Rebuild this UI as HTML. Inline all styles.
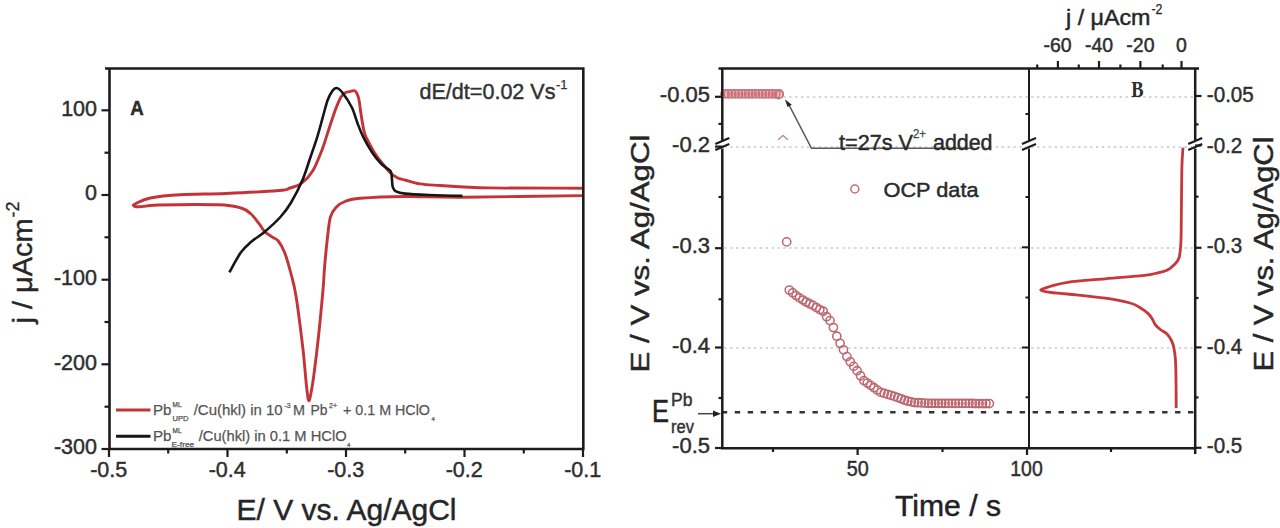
<!DOCTYPE html><html><head><meta charset="utf-8"><style>html,body{margin:0;padding:0;background:#fff;}svg{display:block;}text{font-family:"Liberation Sans",sans-serif;}</style></head><body>
<svg width="1280" height="528" viewBox="0 0 1280 528">
<rect width="1280" height="528" fill="#fff"/>
<path d="M583.0,188.2 C567.3,188.1 512.8,188.3 489.0,187.9 C465.2,187.5 451.5,186.2 440.0,185.5 C428.5,184.8 425.8,184.8 420.0,183.9 C414.2,183.0 408.8,181.0 405.0,180.0 C401.2,179.0 399.7,178.9 397.3,177.7 C394.9,176.5 392.8,175.1 390.5,173.0 C388.2,170.9 386.3,168.4 383.6,165.0 C380.9,161.6 376.9,156.4 374.5,152.7 C372.1,149.0 370.7,146.4 369.0,143.0 C367.3,139.6 365.6,137.1 364.3,132.3 C363.0,127.5 361.9,119.7 361.0,114.0 C360.1,108.3 359.6,101.8 358.6,98.0 C357.6,94.2 356.5,92.1 355.2,91.0 C353.9,89.9 352.3,91.2 350.7,91.4 C349.1,91.7 347.3,91.6 345.7,92.5 C344.1,93.4 342.7,94.2 341.0,97.0 C339.3,99.8 337.6,104.0 335.5,109.5 C333.4,115.0 330.9,123.2 328.6,130.0 C326.3,136.8 324.5,143.7 321.8,150.5 C319.1,157.3 316.1,165.5 312.7,171.0 C309.3,176.5 305.2,180.6 301.4,183.4 C297.6,186.2 293.7,186.8 290.0,188.0 C286.3,189.2 289.7,189.6 279.0,190.5 C268.3,191.4 242.4,192.8 226.0,193.5 C209.6,194.2 193.2,193.9 180.6,194.7 C168.0,195.4 157.7,196.5 150.3,198.0 C142.9,199.5 138.8,202.2 136.0,203.5 C133.2,204.8 133.0,205.0 133.6,205.6 C134.2,206.2 135.6,206.9 139.7,206.8 C143.8,206.7 144.9,205.3 158.0,205.0 C171.1,204.7 204.7,204.3 218.5,204.8 C232.3,205.3 235.6,206.5 241.0,208.0 C246.4,209.5 247.9,211.3 251.0,214.0 C254.1,216.7 257.3,221.5 259.6,224.4 C261.9,227.3 262.7,229.6 264.8,231.7 C266.9,233.8 269.8,235.3 272.0,236.9 C274.2,238.5 276.2,238.4 278.3,241.0 C280.4,243.6 282.5,247.2 284.6,252.5 C286.7,257.8 288.9,265.8 290.8,273.0 C292.7,280.2 294.0,283.7 296.0,296.0 C298.0,308.3 301.0,332.6 302.7,346.8 C304.4,361.0 305.1,372.1 306.0,381.0 C306.9,389.9 307.6,397.8 308.4,400.0 C309.2,402.2 309.8,398.8 310.7,394.5 C311.6,390.2 312.7,383.8 314.0,374.0 C315.3,364.2 317.1,349.5 318.6,335.5 C320.1,321.5 322.0,301.2 323.0,290.0 C324.0,278.8 323.8,276.0 324.5,268.0 C325.2,260.0 326.0,250.5 327.0,242.0 C328.0,233.5 328.8,222.9 330.4,217.0 C332.0,211.1 334.3,209.3 336.7,206.7 C339.1,204.1 341.1,202.9 345.0,201.5 C348.9,200.1 350.0,199.1 360.0,198.3 C370.0,197.5 387.9,196.7 405.0,196.5 C422.1,196.3 432.8,197.3 462.5,197.2 C492.2,197.0 562.9,195.9 583.0,195.6" fill="none" stroke="#c23437" stroke-width="2.9" stroke-linejoin="round"/>
<path d="M229.4,272.3 C231.3,269.0 237.2,257.6 240.8,252.5 C244.4,247.4 247.0,245.5 251.0,242.0 C255.0,238.5 259.9,235.9 264.8,231.7 C269.7,227.5 276.1,221.8 280.4,217.0 C284.7,212.2 287.1,209.2 290.8,203.0 C294.5,196.8 299.2,187.7 302.5,180.0 C305.8,172.3 308.0,164.2 310.5,157.0 C313.0,149.8 315.2,143.6 317.3,136.8 C319.4,130.0 321.3,122.5 323.0,116.4 C324.7,110.4 326.0,104.7 327.5,100.5 C329.0,96.3 330.5,93.5 332.0,91.4 C333.5,89.3 334.9,87.8 336.6,88.0 C338.3,88.2 339.8,89.3 342.3,92.5 C344.8,95.7 349.3,102.2 351.8,107.3 C354.3,112.4 355.6,118.3 357.5,123.2 C359.4,128.1 360.7,131.9 363.2,136.8 C365.7,141.7 369.3,148.2 372.3,152.7 C375.3,157.2 378.4,160.9 381.4,164.0 C384.4,167.1 388.8,168.7 390.5,171.0 C392.2,173.3 391.4,175.1 391.8,177.7 C392.2,180.3 392.0,184.5 392.7,186.8 C393.4,189.1 393.9,190.3 396.0,191.4 C398.1,192.5 399.5,193.0 405.0,193.6 C410.5,194.2 419.4,194.6 429.0,195.0 C438.6,195.4 456.9,195.8 462.5,195.9" fill="none" stroke="#161616" stroke-width="2.6" stroke-linejoin="round"/>
<path d="M105,68.5 H583.3 V449.0 H109.5 V68.5" fill="none" stroke="#1c1c1c" stroke-width="2.6"/>
<line x1="101.5" y1="110.3" x2="109.5" y2="110.3" stroke="#1c1c1c" stroke-width="2.2"/>
<text x="97" y="115.5" font-size="21.5" text-anchor="end" fill="#2e2e2e" stroke="#2e2e2e" stroke-width="0.45" >100</text>
<line x1="101.5" y1="195.0" x2="109.5" y2="195.0" stroke="#1c1c1c" stroke-width="2.2"/>
<text x="97" y="200.2" font-size="21.5" text-anchor="end" fill="#2e2e2e" stroke="#2e2e2e" stroke-width="0.45" >0</text>
<line x1="101.5" y1="279.7" x2="109.5" y2="279.7" stroke="#1c1c1c" stroke-width="2.2"/>
<text x="97" y="284.9" font-size="21.5" text-anchor="end" fill="#2e2e2e" stroke="#2e2e2e" stroke-width="0.45" >-100</text>
<line x1="101.5" y1="364.3" x2="109.5" y2="364.3" stroke="#1c1c1c" stroke-width="2.2"/>
<text x="97" y="369.5" font-size="21.5" text-anchor="end" fill="#2e2e2e" stroke="#2e2e2e" stroke-width="0.45" >-200</text>
<line x1="101.5" y1="449.0" x2="109.5" y2="449.0" stroke="#1c1c1c" stroke-width="2.2"/>
<text x="97" y="454.2" font-size="21.5" text-anchor="end" fill="#2e2e2e" stroke="#2e2e2e" stroke-width="0.45" >-300</text>
<line x1="104.5" y1="152.7" x2="109.5" y2="152.7" stroke="#1c1c1c" stroke-width="2.2"/>
<line x1="104.5" y1="237.3" x2="109.5" y2="237.3" stroke="#1c1c1c" stroke-width="2.2"/>
<line x1="104.5" y1="322.0" x2="109.5" y2="322.0" stroke="#1c1c1c" stroke-width="2.2"/>
<line x1="104.5" y1="406.7" x2="109.5" y2="406.7" stroke="#1c1c1c" stroke-width="2.2"/>
<line x1="109.0" y1="449.0" x2="109.0" y2="457" stroke="#1c1c1c" stroke-width="2.2"/>
<text x="108.7" y="476.8" font-size="21.5" text-anchor="middle" fill="#2e2e2e" stroke="#2e2e2e" stroke-width="0.45" >-0.5</text>
<line x1="227.5" y1="449.0" x2="227.5" y2="457" stroke="#1c1c1c" stroke-width="2.2"/>
<text x="227.2" y="476.8" font-size="21.5" text-anchor="middle" fill="#2e2e2e" stroke="#2e2e2e" stroke-width="0.45" >-0.4</text>
<line x1="346.0" y1="449.0" x2="346.0" y2="457" stroke="#1c1c1c" stroke-width="2.2"/>
<text x="345.7" y="476.8" font-size="21.5" text-anchor="middle" fill="#2e2e2e" stroke="#2e2e2e" stroke-width="0.45" >-0.3</text>
<line x1="464.5" y1="449.0" x2="464.5" y2="457" stroke="#1c1c1c" stroke-width="2.2"/>
<text x="464.2" y="476.8" font-size="21.5" text-anchor="middle" fill="#2e2e2e" stroke="#2e2e2e" stroke-width="0.45" >-0.2</text>
<line x1="583.0" y1="449.0" x2="583.0" y2="457" stroke="#1c1c1c" stroke-width="2.2"/>
<text x="582.7" y="476.8" font-size="21.5" text-anchor="middle" fill="#2e2e2e" stroke="#2e2e2e" stroke-width="0.45" >-0.1</text>
<line x1="168.2" y1="449.0" x2="168.2" y2="453.5" stroke="#1c1c1c" stroke-width="2.2"/>
<line x1="286.8" y1="449.0" x2="286.8" y2="453.5" stroke="#1c1c1c" stroke-width="2.2"/>
<line x1="405.2" y1="449.0" x2="405.2" y2="453.5" stroke="#1c1c1c" stroke-width="2.2"/>
<line x1="523.8" y1="449.0" x2="523.8" y2="453.5" stroke="#1c1c1c" stroke-width="2.2"/>
<text x="236.5" y="519.5" font-size="29" text-anchor="start" fill="#262626" stroke="#262626" stroke-width="0.45" textLength="220" lengthAdjust="spacingAndGlyphs" >E/ V vs. Ag/AgCl</text>
<g transform="translate(31.5,323.5) rotate(-90)"><text x="0" y="0" font-size="28.5" fill="#262626" stroke="#262626" stroke-width="0.45" textLength="105" lengthAdjust="spacingAndGlyphs">j / μAcm</text><text x="106" y="-13" font-size="18" fill="#262626" stroke="#262626" stroke-width="0.3">-2</text></g>
<text x="130.2" y="114.9" font-size="20" text-anchor="start" fill="#2a2a2a" stroke="#2a2a2a" stroke-width="0.45" textLength="13.5" lengthAdjust="spacingAndGlyphs" font-weight="bold">A</text>
<text x="419.5" y="98.5" font-size="22" text-anchor="start" fill="#333" stroke="#333" stroke-width="0.45" textLength="136" lengthAdjust="spacingAndGlyphs" >dE/dt=0.02 Vs</text>
<text x="556" y="89" font-size="13" text-anchor="start" fill="#333" stroke="#333" stroke-width="0.25" >-1</text>
<line x1="116" y1="410" x2="150.5" y2="410" stroke="#c23437" stroke-width="3.2"/>
<line x1="116" y1="436.3" x2="150.5" y2="436.3" stroke="#161616" stroke-width="3"/>
<text x="153" y="415.2" font-size="15.5" text-anchor="start" fill="#555" stroke="#555" stroke-width="0.25" textLength="18.5" lengthAdjust="spacingAndGlyphs" >Pb</text>
<text x="172.6" y="406.8" font-size="6.5" text-anchor="start" fill="#555" stroke="#555" stroke-width="0.25" textLength="9" lengthAdjust="spacingAndGlyphs" >ML</text>
<text x="172.6" y="421" font-size="7" text-anchor="start" fill="#555" stroke="#555" stroke-width="0.25" textLength="16" lengthAdjust="spacingAndGlyphs" >UPD</text>
<text x="193.7" y="415" font-size="15" text-anchor="start" fill="#555" stroke="#555" stroke-width="0.25" textLength="89" lengthAdjust="spacingAndGlyphs" >/Cu(hkl) in 10</text>
<text x="284.5" y="408" font-size="7" text-anchor="start" fill="#555" stroke="#555" stroke-width="0.25" >-3</text>
<text x="293" y="415" font-size="15" text-anchor="start" fill="#555" stroke="#555" stroke-width="0.25" textLength="12" lengthAdjust="spacingAndGlyphs" >M</text>
<text x="310.6" y="415" font-size="15" text-anchor="start" fill="#555" stroke="#555" stroke-width="0.25" textLength="17" lengthAdjust="spacingAndGlyphs" >Pb</text>
<text x="329" y="408" font-size="7" text-anchor="start" fill="#555" stroke="#555" stroke-width="0.25" >2+</text>
<text x="343" y="415" font-size="15" text-anchor="start" fill="#555" stroke="#555" stroke-width="0.25" textLength="87" lengthAdjust="spacingAndGlyphs" >+ 0.1 M HClO</text>
<text x="431.5" y="421" font-size="6" text-anchor="start" fill="#555" stroke="#555" stroke-width="0.25" >4</text>
<text x="153" y="441.3" font-size="15.5" text-anchor="start" fill="#555" stroke="#555" stroke-width="0.25" textLength="18.5" lengthAdjust="spacingAndGlyphs" >Pb</text>
<text x="172.6" y="433" font-size="6.5" text-anchor="start" fill="#555" stroke="#555" stroke-width="0.25" textLength="9" lengthAdjust="spacingAndGlyphs" >ML</text>
<text x="171.6" y="446.8" font-size="7" text-anchor="start" fill="#555" stroke="#555" stroke-width="0.25" textLength="22.5" lengthAdjust="spacingAndGlyphs" >E-free</text>
<text x="198.7" y="441.3" font-size="15" text-anchor="start" fill="#555" stroke="#555" stroke-width="0.25" textLength="148" lengthAdjust="spacingAndGlyphs" >/Cu(hkl) in 0.1 M HClO</text>
<text x="347" y="447" font-size="6" text-anchor="start" fill="#555" stroke="#555" stroke-width="0.25" >4</text>
<line x1="724.3" y1="97.0" x2="1194.2" y2="97.0" stroke="#d6d6d6" stroke-width="1.8" stroke-dasharray="2.4 3.5"/>
<line x1="724.3" y1="147.0" x2="1194.2" y2="147.0" stroke="#d6d6d6" stroke-width="1.8" stroke-dasharray="2.4 3.5"/>
<line x1="724.3" y1="248.0" x2="1194.2" y2="248.0" stroke="#d6d6d6" stroke-width="1.8" stroke-dasharray="2.4 3.5"/>
<line x1="724.3" y1="348.0" x2="1194.2" y2="348.0" stroke="#d6d6d6" stroke-width="1.8" stroke-dasharray="2.4 3.5"/>
<line x1="722.3" y1="412.3" x2="1195.2" y2="412.3" stroke="#333" stroke-width="2.4" stroke-dasharray="5.4 7.55" stroke-dashoffset="0.5"/>
<rect x="722.3" y="90" width="58" height="8" rx="4" fill="#ecbcc0"/>
<circle cx="725.0" cy="93.9" r="4.1" fill="none" stroke="#c8747c" stroke-width="1.6"/>
<circle cx="728.39" cy="93.9" r="4.1" fill="none" stroke="#c8747c" stroke-width="1.6"/>
<circle cx="731.78" cy="93.9" r="4.1" fill="none" stroke="#c8747c" stroke-width="1.6"/>
<circle cx="735.17" cy="93.9" r="4.1" fill="none" stroke="#c8747c" stroke-width="1.6"/>
<circle cx="738.56" cy="93.9" r="4.1" fill="none" stroke="#c8747c" stroke-width="1.6"/>
<circle cx="741.95" cy="93.9" r="4.1" fill="none" stroke="#c8747c" stroke-width="1.6"/>
<circle cx="745.34" cy="93.9" r="4.1" fill="none" stroke="#c8747c" stroke-width="1.6"/>
<circle cx="748.73" cy="93.9" r="4.1" fill="none" stroke="#c8747c" stroke-width="1.6"/>
<circle cx="752.12" cy="93.9" r="4.1" fill="none" stroke="#c8747c" stroke-width="1.6"/>
<circle cx="755.51" cy="93.9" r="4.1" fill="none" stroke="#c8747c" stroke-width="1.6"/>
<circle cx="758.9" cy="93.9" r="4.1" fill="none" stroke="#c8747c" stroke-width="1.6"/>
<circle cx="762.29" cy="93.9" r="4.1" fill="none" stroke="#c8747c" stroke-width="1.6"/>
<circle cx="765.68" cy="93.9" r="4.1" fill="none" stroke="#c8747c" stroke-width="1.6"/>
<circle cx="769.07" cy="93.9" r="4.1" fill="none" stroke="#c8747c" stroke-width="1.6"/>
<circle cx="772.46" cy="93.9" r="4.1" fill="none" stroke="#c8747c" stroke-width="1.6"/>
<circle cx="775.85" cy="93.9" r="4.1" fill="none" stroke="#c8747c" stroke-width="1.6"/>
<circle cx="779.24" cy="93.9" r="4.1" fill="none" stroke="#c8747c" stroke-width="1.6"/>
<circle cx="778.5" cy="94.6" r="4.1" fill="none" stroke="#c8747c" stroke-width="1.6"/>
<circle cx="786.7" cy="241.9" r="4.1" fill="none" stroke="#bc6870" stroke-width="1.55"/>
<circle cx="789.3" cy="290.0" r="4.1" fill="none" stroke="#bc6870" stroke-width="1.55"/>
<circle cx="792.7" cy="292.8" r="4.1" fill="none" stroke="#bc6870" stroke-width="1.55"/>
<circle cx="796.1" cy="295.6" r="4.1" fill="none" stroke="#bc6870" stroke-width="1.55"/>
<circle cx="799.5" cy="297.9" r="4.1" fill="none" stroke="#bc6870" stroke-width="1.55"/>
<circle cx="802.9" cy="300.0" r="4.1" fill="none" stroke="#bc6870" stroke-width="1.55"/>
<circle cx="806.2" cy="302.0" r="4.1" fill="none" stroke="#bc6870" stroke-width="1.55"/>
<circle cx="809.6" cy="303.7" r="4.1" fill="none" stroke="#bc6870" stroke-width="1.55"/>
<circle cx="813.0" cy="305.4" r="4.1" fill="none" stroke="#bc6870" stroke-width="1.55"/>
<circle cx="816.4" cy="307.5" r="4.1" fill="none" stroke="#bc6870" stroke-width="1.55"/>
<circle cx="819.8" cy="309.6" r="4.1" fill="none" stroke="#bc6870" stroke-width="1.55"/>
<circle cx="823.2" cy="311.2" r="4.1" fill="none" stroke="#bc6870" stroke-width="1.55"/>
<circle cx="826.6" cy="316.7" r="4.1" fill="none" stroke="#bc6870" stroke-width="1.55"/>
<circle cx="830.0" cy="320.6" r="4.1" fill="none" stroke="#bc6870" stroke-width="1.55"/>
<circle cx="833.4" cy="327.5" r="4.1" fill="none" stroke="#bc6870" stroke-width="1.55"/>
<circle cx="836.8" cy="336.2" r="4.1" fill="none" stroke="#bc6870" stroke-width="1.55"/>
<circle cx="840.1" cy="343.3" r="4.1" fill="none" stroke="#bc6870" stroke-width="1.55"/>
<circle cx="843.5" cy="349.8" r="4.1" fill="none" stroke="#bc6870" stroke-width="1.55"/>
<circle cx="846.9" cy="356.6" r="4.1" fill="none" stroke="#bc6870" stroke-width="1.55"/>
<circle cx="850.3" cy="361.8" r="4.1" fill="none" stroke="#bc6870" stroke-width="1.55"/>
<circle cx="853.7" cy="366.4" r="4.1" fill="none" stroke="#bc6870" stroke-width="1.55"/>
<circle cx="857.1" cy="370.7" r="4.1" fill="none" stroke="#bc6870" stroke-width="1.55"/>
<circle cx="860.5" cy="375.8" r="4.1" fill="none" stroke="#bc6870" stroke-width="1.55"/>
<circle cx="863.9" cy="380.6" r="4.1" fill="none" stroke="#bc6870" stroke-width="1.55"/>
<circle cx="867.3" cy="383.0" r="4.1" fill="none" stroke="#bc6870" stroke-width="1.55"/>
<circle cx="870.7" cy="385.4" r="4.1" fill="none" stroke="#bc6870" stroke-width="1.55"/>
<circle cx="874.0" cy="387.7" r="4.1" fill="none" stroke="#bc6870" stroke-width="1.55"/>
<circle cx="877.4" cy="390.1" r="4.1" fill="none" stroke="#bc6870" stroke-width="1.55"/>
<circle cx="880.8" cy="392.4" r="4.1" fill="none" stroke="#bc6870" stroke-width="1.55"/>
<circle cx="884.2" cy="393.4" r="4.1" fill="none" stroke="#bc6870" stroke-width="1.55"/>
<circle cx="887.6" cy="394.4" r="4.1" fill="none" stroke="#bc6870" stroke-width="1.55"/>
<circle cx="891.0" cy="395.4" r="4.1" fill="none" stroke="#bc6870" stroke-width="1.55"/>
<circle cx="894.4" cy="396.4" r="4.1" fill="none" stroke="#bc6870" stroke-width="1.55"/>
<circle cx="897.8" cy="397.5" r="4.1" fill="none" stroke="#bc6870" stroke-width="1.55"/>
<circle cx="901.2" cy="398.8" r="4.1" fill="none" stroke="#bc6870" stroke-width="1.55"/>
<circle cx="904.6" cy="400.2" r="4.1" fill="none" stroke="#bc6870" stroke-width="1.55"/>
<circle cx="907.9" cy="401.2" r="4.1" fill="none" stroke="#bc6870" stroke-width="1.55"/>
<circle cx="911.3" cy="401.9" r="4.1" fill="none" stroke="#bc6870" stroke-width="1.55"/>
<circle cx="914.7" cy="402.5" r="4.1" fill="none" stroke="#bc6870" stroke-width="1.55"/>
<circle cx="918.1" cy="402.7" r="4.1" fill="none" stroke="#bc6870" stroke-width="1.55"/>
<circle cx="921.5" cy="402.9" r="4.1" fill="none" stroke="#bc6870" stroke-width="1.55"/>
<circle cx="924.9" cy="403.1" r="4.1" fill="none" stroke="#bc6870" stroke-width="1.55"/>
<circle cx="928.3" cy="403.3" r="4.1" fill="none" stroke="#bc6870" stroke-width="1.55"/>
<circle cx="931.7" cy="403.3" r="4.1" fill="none" stroke="#bc6870" stroke-width="1.55"/>
<circle cx="935.1" cy="403.3" r="4.1" fill="none" stroke="#bc6870" stroke-width="1.55"/>
<circle cx="938.5" cy="403.3" r="4.1" fill="none" stroke="#bc6870" stroke-width="1.55"/>
<circle cx="941.8" cy="403.3" r="4.1" fill="none" stroke="#bc6870" stroke-width="1.55"/>
<circle cx="945.2" cy="403.4" r="4.1" fill="none" stroke="#bc6870" stroke-width="1.55"/>
<circle cx="948.6" cy="403.4" r="4.1" fill="none" stroke="#bc6870" stroke-width="1.55"/>
<circle cx="952.0" cy="403.4" r="4.1" fill="none" stroke="#bc6870" stroke-width="1.55"/>
<circle cx="955.4" cy="403.4" r="4.1" fill="none" stroke="#bc6870" stroke-width="1.55"/>
<circle cx="958.8" cy="403.4" r="4.1" fill="none" stroke="#bc6870" stroke-width="1.55"/>
<circle cx="962.2" cy="403.4" r="4.1" fill="none" stroke="#bc6870" stroke-width="1.55"/>
<circle cx="965.6" cy="403.4" r="4.1" fill="none" stroke="#bc6870" stroke-width="1.55"/>
<circle cx="969.0" cy="403.4" r="4.1" fill="none" stroke="#bc6870" stroke-width="1.55"/>
<circle cx="972.4" cy="403.4" r="4.1" fill="none" stroke="#bc6870" stroke-width="1.55"/>
<circle cx="975.7" cy="403.5" r="4.1" fill="none" stroke="#bc6870" stroke-width="1.55"/>
<circle cx="979.1" cy="403.5" r="4.1" fill="none" stroke="#bc6870" stroke-width="1.55"/>
<circle cx="982.5" cy="403.5" r="4.1" fill="none" stroke="#bc6870" stroke-width="1.55"/>
<circle cx="985.9" cy="403.5" r="4.1" fill="none" stroke="#bc6870" stroke-width="1.55"/>
<circle cx="989.3" cy="403.5" r="4.1" fill="none" stroke="#bc6870" stroke-width="1.55"/>
<path d="M778,139.7 L783,135.4 L787.8,139.7" fill="none" stroke="#b89098" stroke-width="1.5"/>
<path d="M1183.0,147.6 C1182.8,151.3 1182.1,156.1 1181.8,170.0 C1181.5,183.9 1181.4,218.0 1181.2,231.0 C1181.0,244.0 1180.9,243.5 1180.5,248.0 C1180.1,252.5 1179.9,255.3 1179.0,258.0 C1178.1,260.7 1176.9,262.0 1175.0,264.0 C1173.1,266.0 1170.8,268.4 1167.5,270.0 C1164.2,271.6 1159.2,272.6 1155.0,273.5 C1150.8,274.4 1150.8,274.7 1142.5,275.6 C1134.2,276.5 1117.5,277.6 1105.0,278.8 C1092.5,279.9 1076.7,281.0 1067.5,282.3 C1058.3,283.6 1054.5,285.2 1050.0,286.5 C1045.5,287.8 1040.6,289.0 1040.6,290.0 C1040.6,291.0 1045.5,291.6 1050.0,292.3 C1054.5,293.0 1058.3,293.0 1067.5,294.0 C1076.7,295.0 1094.6,296.7 1105.0,298.2 C1115.4,299.7 1124.3,301.5 1130.0,303.0 C1135.7,304.5 1136.0,305.2 1139.0,307.0 C1142.0,308.8 1145.9,311.5 1148.2,313.6 C1150.5,315.7 1151.5,317.8 1152.7,319.7 C1153.9,321.6 1154.2,323.4 1155.5,325.0 C1156.8,326.6 1158.4,328.0 1160.3,329.5 C1162.2,331.0 1165.1,332.1 1167.0,334.0 C1168.9,335.9 1170.5,338.6 1171.7,341.0 C1172.9,343.4 1173.4,345.2 1174.0,348.5 C1174.6,351.8 1175.2,355.4 1175.5,360.6 C1175.8,365.9 1175.9,372.1 1176.0,380.0 C1176.1,387.9 1176.2,403.3 1176.2,408.0" fill="none" stroke="#c6383c" stroke-width="2.8" stroke-linejoin="round"/>
<path d="M718.5,68.4 H1199 M722.3,68.4 V448.3 H1195.2 M1195.2,68.4 V454" fill="none" stroke="#1c1c1c" stroke-width="2.5"/>
<path d="M1029.0,68.4 V448.3" fill="none" stroke="#1c1c1c" stroke-width="2"/>
<rect x="719.3" y="140.5" width="6" height="8" fill="#fff"/>
<path d="M715.3,144.0 L729.3,138.0 M715.3,150.0 L729.3,144.0" stroke="#1c1c1c" stroke-width="2.2" fill="none"/>
<rect x="1026.0" y="140.5" width="6" height="8" fill="#fff"/>
<path d="M1022.0,144.0 L1036.0,138.0 M1022.0,150.0 L1036.0,144.0" stroke="#1c1c1c" stroke-width="2.2" fill="none"/>
<rect x="1192.2" y="140.5" width="6" height="8" fill="#fff"/>
<path d="M1188.2,144.0 L1202.2,138.0 M1188.2,150.0 L1202.2,144.0" stroke="#1c1c1c" stroke-width="2.2" fill="none"/>
<line x1="715" y1="96.8" x2="722.3" y2="96.8" stroke="#1c1c1c" stroke-width="2.2"/>
<line x1="715" y1="146.6" x2="722.3" y2="146.6" stroke="#1c1c1c" stroke-width="2.2"/>
<line x1="715" y1="248.2" x2="722.3" y2="248.2" stroke="#1c1c1c" stroke-width="2.2"/>
<line x1="715" y1="347.5" x2="722.3" y2="347.5" stroke="#1c1c1c" stroke-width="2.2"/>
<line x1="715" y1="448.0" x2="722.3" y2="448.0" stroke="#1c1c1c" stroke-width="2.2"/>
<line x1="718.5" y1="123.9" x2="722.3" y2="123.9" stroke="#1c1c1c" stroke-width="2.2"/>
<line x1="718.5" y1="197.0" x2="722.3" y2="197.0" stroke="#1c1c1c" stroke-width="2.2"/>
<line x1="718.5" y1="299.3" x2="722.3" y2="299.3" stroke="#1c1c1c" stroke-width="2.2"/>
<line x1="718.5" y1="398.0" x2="722.3" y2="398.0" stroke="#1c1c1c" stroke-width="2.2"/>
<line x1="1022" y1="247.3" x2="1029.0" y2="247.3" stroke="#1c1c1c" stroke-width="2"/>
<line x1="1022" y1="347.5" x2="1029.0" y2="347.5" stroke="#1c1c1c" stroke-width="2"/>
<line x1="1025.5" y1="114" x2="1029.0" y2="114" stroke="#1c1c1c" stroke-width="2"/>
<line x1="1025.5" y1="197.0" x2="1029.0" y2="197.0" stroke="#1c1c1c" stroke-width="2"/>
<line x1="1025.5" y1="297.5" x2="1029.0" y2="297.5" stroke="#1c1c1c" stroke-width="2"/>
<line x1="1025.5" y1="397.3" x2="1029.0" y2="397.3" stroke="#1c1c1c" stroke-width="2"/>
<line x1="1195.2" y1="96.0" x2="1201.5" y2="96.0" stroke="#1c1c1c" stroke-width="2.2"/>
<line x1="1195.2" y1="145.5" x2="1201.5" y2="145.5" stroke="#1c1c1c" stroke-width="2.2"/>
<line x1="1195.2" y1="247.8" x2="1201.5" y2="247.8" stroke="#1c1c1c" stroke-width="2.2"/>
<line x1="1195.2" y1="347.4" x2="1201.5" y2="347.4" stroke="#1c1c1c" stroke-width="2.2"/>
<line x1="1195.2" y1="447.8" x2="1201.5" y2="447.8" stroke="#1c1c1c" stroke-width="2.2"/>
<line x1="1195.2" y1="124.4" x2="1198.5" y2="124.4" stroke="#1c1c1c" stroke-width="2.2"/>
<line x1="1195.2" y1="196.7" x2="1198.5" y2="196.7" stroke="#1c1c1c" stroke-width="2.2"/>
<line x1="1195.2" y1="298.0" x2="1198.5" y2="298.0" stroke="#1c1c1c" stroke-width="2.2"/>
<line x1="1195.2" y1="397.4" x2="1198.5" y2="397.4" stroke="#1c1c1c" stroke-width="2.2"/>
<line x1="857.6" y1="448.3" x2="857.6" y2="455" stroke="#1c1c1c" stroke-width="2.2"/>
<line x1="1027.0" y1="448.3" x2="1027.0" y2="455" stroke="#1c1c1c" stroke-width="2.2"/>
<line x1="773.0" y1="448.3" x2="773.0" y2="452" stroke="#1c1c1c" stroke-width="2.2"/>
<line x1="942.5" y1="448.3" x2="942.5" y2="452" stroke="#1c1c1c" stroke-width="2.2"/>
<line x1="1111.0" y1="448.3" x2="1111.0" y2="452" stroke="#1c1c1c" stroke-width="2.2"/>
<line x1="1057.9" y1="68.4" x2="1057.9" y2="61" stroke="#1c1c1c" stroke-width="2.2"/>
<line x1="1099.0" y1="68.4" x2="1099.0" y2="61" stroke="#1c1c1c" stroke-width="2.2"/>
<line x1="1140.4" y1="68.4" x2="1140.4" y2="61" stroke="#1c1c1c" stroke-width="2.2"/>
<line x1="1181.5" y1="68.4" x2="1181.5" y2="61" stroke="#1c1c1c" stroke-width="2.2"/>
<line x1="1037.2" y1="68.4" x2="1037.2" y2="64.5" stroke="#1c1c1c" stroke-width="2.2"/>
<line x1="1078.75" y1="68.4" x2="1078.75" y2="64.5" stroke="#1c1c1c" stroke-width="2.2"/>
<line x1="1120.4" y1="68.4" x2="1120.4" y2="64.5" stroke="#1c1c1c" stroke-width="2.2"/>
<line x1="1162.7" y1="68.4" x2="1162.7" y2="64.5" stroke="#1c1c1c" stroke-width="2.2"/>
<path d="M788.5,104 L811.5,148.3 H971" fill="none" stroke="#5a5a5a" stroke-width="1.6"/>
<path d="M784.8,99.2 L791.8,104.8 L787.6,107 Z" fill="#222"/>
<text x="839" y="149.5" font-size="21.5" text-anchor="start" fill="#2a2a2a" stroke="#2a2a2a" stroke-width="0.45" textLength="74" lengthAdjust="spacingAndGlyphs" >t=27s V</text>
<text x="913" y="137.5" font-size="12" text-anchor="start" fill="#444" stroke="#444" stroke-width="0.25" textLength="13" lengthAdjust="spacingAndGlyphs" >2+</text>
<text x="933" y="149.5" font-size="21.5" text-anchor="start" fill="#2a2a2a" stroke="#2a2a2a" stroke-width="0.45" textLength="59.5" lengthAdjust="spacingAndGlyphs" >added</text>
<circle cx="854.8" cy="189" r="4" fill="none" stroke="#c07070" stroke-width="1.5"/>
<text x="883.5" y="196.5" font-size="20" text-anchor="start" fill="#2a2a2a" stroke="#2a2a2a" stroke-width="0.45" textLength="95" lengthAdjust="spacingAndGlyphs" >OCP data</text>
<text x="710" y="102.0" font-size="22" text-anchor="end" fill="#2e2e2e" stroke="#2e2e2e" stroke-width="0.45" >-0.05</text>
<text x="710" y="151.8" font-size="22" text-anchor="end" fill="#2e2e2e" stroke="#2e2e2e" stroke-width="0.45" >-0.2</text>
<text x="710" y="253.4" font-size="22" text-anchor="end" fill="#2e2e2e" stroke="#2e2e2e" stroke-width="0.45" >-0.3</text>
<text x="710" y="352.7" font-size="22" text-anchor="end" fill="#2e2e2e" stroke="#2e2e2e" stroke-width="0.45" >-0.4</text>
<text x="710" y="453.2" font-size="22" text-anchor="end" fill="#2e2e2e" stroke="#2e2e2e" stroke-width="0.45" >-0.5</text>
<text x="1206.8" y="102.3" font-size="22" text-anchor="start" fill="#2e2e2e" stroke="#2e2e2e" stroke-width="0.45" textLength="47" lengthAdjust="spacingAndGlyphs" >-0.05</text>
<text x="1206.8" y="152.7" font-size="22" text-anchor="start" fill="#2e2e2e" stroke="#2e2e2e" stroke-width="0.45" textLength="35.5" lengthAdjust="spacingAndGlyphs" >-0.2</text>
<text x="1206.8" y="253.3" font-size="22" text-anchor="start" fill="#2e2e2e" stroke="#2e2e2e" stroke-width="0.45" textLength="35.5" lengthAdjust="spacingAndGlyphs" >-0.3</text>
<text x="1206.8" y="353.7" font-size="22" text-anchor="start" fill="#2e2e2e" stroke="#2e2e2e" stroke-width="0.45" textLength="35.5" lengthAdjust="spacingAndGlyphs" >-0.4</text>
<text x="1206.8" y="453.0" font-size="22" text-anchor="start" fill="#2e2e2e" stroke="#2e2e2e" stroke-width="0.45" textLength="35.5" lengthAdjust="spacingAndGlyphs" >-0.5</text>
<text x="857.8" y="475.6" font-size="22.5" text-anchor="middle" fill="#2e2e2e" stroke="#2e2e2e" stroke-width="0.45" textLength="22" lengthAdjust="spacingAndGlyphs" >50</text>
<text x="1026.5" y="475.6" font-size="22.5" text-anchor="middle" fill="#2e2e2e" stroke="#2e2e2e" stroke-width="0.45" textLength="32.5" lengthAdjust="spacingAndGlyphs" >100</text>
<text x="1057.6" y="52" font-size="19.5" text-anchor="middle" fill="#2e2e2e" stroke="#2e2e2e" stroke-width="0.45" >-60</text>
<text x="1099" y="52" font-size="19.5" text-anchor="middle" fill="#2e2e2e" stroke="#2e2e2e" stroke-width="0.45" >-40</text>
<text x="1140.4" y="52" font-size="19.5" text-anchor="middle" fill="#2e2e2e" stroke="#2e2e2e" stroke-width="0.45" >-20</text>
<text x="1181.5" y="52" font-size="19.5" text-anchor="middle" fill="#2e2e2e" stroke="#2e2e2e" stroke-width="0.45" >0</text>
<text x="1066" y="25" font-size="22" text-anchor="start" fill="#262626" stroke="#262626" stroke-width="0.45" textLength="84.5" lengthAdjust="spacingAndGlyphs" >j / μAcm</text>
<text x="1151.5" y="13.8" font-size="14" text-anchor="start" fill="#262626" stroke="#262626" stroke-width="0.25" textLength="11" lengthAdjust="spacingAndGlyphs" >-2</text>
<text x="1131.3" y="96.8" font-size="22.5" font-weight="bold" fill="#2a2a2a" textLength="12.3" lengthAdjust="spacingAndGlyphs" style="font-family:'Liberation Serif',serif">B</text>
<text x="652" y="421.5" font-size="30.5" text-anchor="start" fill="#222" stroke="#222" stroke-width="0.45" textLength="17" lengthAdjust="spacingAndGlyphs" >E</text>
<text x="671" y="405.5" font-size="17.5" text-anchor="start" fill="#333" stroke="#333" stroke-width="0.45" >Pb</text>
<text x="671" y="433" font-size="17.5" text-anchor="start" fill="#333" stroke="#333" stroke-width="0.45" textLength="23" lengthAdjust="spacingAndGlyphs" >rev</text>
<line x1="698" y1="413.7" x2="714" y2="413.7" stroke="#444" stroke-width="1.5"/>
<path d="M721,413.7 L713,410.5 L713,416.9 Z" fill="#222"/>
<text x="895" y="515.5" font-size="29.5" text-anchor="start" fill="#222" stroke="#222" stroke-width="0.45" textLength="106" lengthAdjust="spacingAndGlyphs" >Time / s</text>
<g transform="translate(648.5,372.5) rotate(-90)"><text x="0" y="0" font-size="26.5" fill="#262626" stroke="#262626" stroke-width="0.45" textLength="238" lengthAdjust="spacingAndGlyphs">E / V  vs. Ag/AgCl</text></g>
<g transform="translate(1272.6,371.5) rotate(-90)"><text x="0" y="0" font-size="28" fill="#262626" stroke="#262626" stroke-width="0.45" textLength="235" lengthAdjust="spacingAndGlyphs">E / V  vs. Ag/AgCl</text></g>
</svg></body></html>
